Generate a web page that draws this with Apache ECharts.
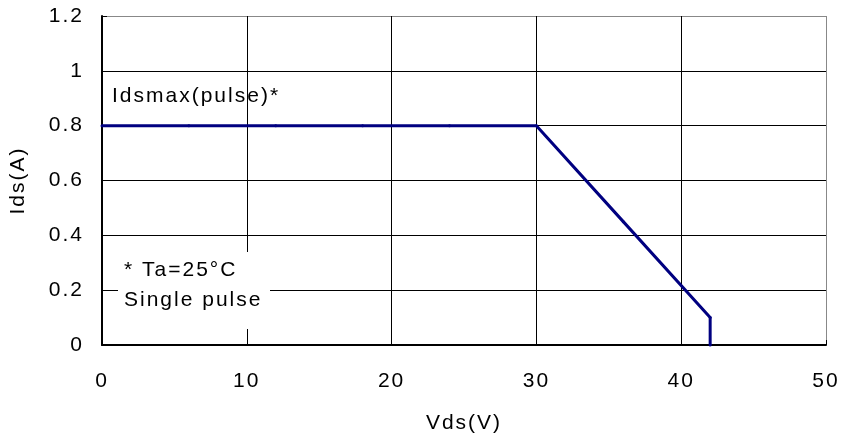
<!DOCTYPE html>
<html>
<head>
<meta charset="utf-8">
<script>
  // the reference text is letter-spaced; give every 2d canvas context a little tracking
  (function () {
    var orig = HTMLCanvasElement.prototype.getContext
    HTMLCanvasElement.prototype.getContext = function (type, opts) {
      var ctx = orig.call(this, type, opts)
      if (ctx && type === '2d' && 'letterSpacing' in ctx) ctx.letterSpacing = '2px'
      return ctx
    }
  })()
</script>
<script src="https://cdn.jsdelivr.net/npm/echarts@6/dist/echarts.min.js"></script>
<style>
  html, body { margin: 0; padding: 0; background: #fff; }
  #main { width: 842px; height: 439px; }
</style>
</head>
<body>
<div id="main"></div>
<script>
// curve points
var vds = [0, 6, 12, 18, 24, 30, 36, 42, 42]
var ids = [0.8, 0.8, 0.8, 0.8, 0.8, 0.8, 0.45, 0.1, 0]
var xTicks = [0, 10, 20, 30, 40, 50]
var yTicks = [0, 0.2, 0.4, 0.6, 0.8, 1, 1.2]

var points = vds.map(function (v, i) { return [v, ids[i]] })

var myChart = echarts.init(document.getElementById('main'))
var font = 'Liberation Sans, Arial, sans-serif'

var option = {
  animation: false,
  backgroundColor: '#fff',
  grid: { left: 102, right: 16, top: 16, bottom: 94, outerBoundsMode: 'none', containLabel: false },
  xAxis: {
    type: 'value',
    min: xTicks[0],
    max: xTicks[xTicks.length - 1],
    interval: 10,
    name: 'Vds(V)',
    nameLocation: 'middle',
    nameGap: 67,
    nameTextStyle: { color: '#000', fontSize: 21, fontFamily: font },
    axisLine: { show: true, onZero: false, lineStyle: { color: '#000', width: 2 } },
    axisTick: { show: true, inside: true, length: 5, lineStyle: { color: '#000' } },
    axisLabel: { color: '#000', fontSize: 21, fontFamily: font, margin: 25 },
    splitLine: { show: true, lineStyle: { color: ['#000', '#000', '#000', '#000', '#000', '#888'], width: 1 } }
  },
  yAxis: {
    type: 'value',
    min: yTicks[0],
    max: yTicks[yTicks.length - 1],
    interval: 0.2,
    name: 'Ids(A)',
    nameLocation: 'middle',
    nameGap: 72,
    nameTextStyle: { color: '#000', fontSize: 21, fontFamily: font },
    axisLine: { show: true, onZero: false, lineStyle: { color: '#000', width: 2 } },
    axisTick: { show: true, inside: true, length: 5, lineStyle: { color: '#000' } },
    axisLabel: { color: '#000', fontSize: 21, fontFamily: font, margin: 18 },
    splitLine: { show: true, lineStyle: { color: ['#000', '#000', '#000', '#000', '#000', '#000', '#888'], width: 1 } }
  },
  series: [
    {
      type: 'line',
      data: points,
      symbol: 'circle',
      symbolSize: 3,
      itemStyle: { color: '#000080' },
      lineStyle: { color: '#000080', width: 3 },
      z: 5
    }
  ],
  graphic: [
    {
      type: 'text',
      left: 112,
      top: 85,
      z: 10,
      style: { text: 'Idsmax(pulse)*', fill: '#000', font: '21px ' + font }
    },
    {
      type: 'rect',
      left: 118,
      top: 252,
      z: 10,
      shape: { width: 152, height: 77 },
      style: { fill: '#fff' }
    },
    {
      type: 'text',
      left: 124,
      top: 255,
      z: 11,
      style: { text: '* Ta=25°C\nSingle pulse', fill: '#000', font: '21px ' + font, lineHeight: 30 }
    }
  ]
}

myChart.setOption(option)
</script>
</body>
</html>
